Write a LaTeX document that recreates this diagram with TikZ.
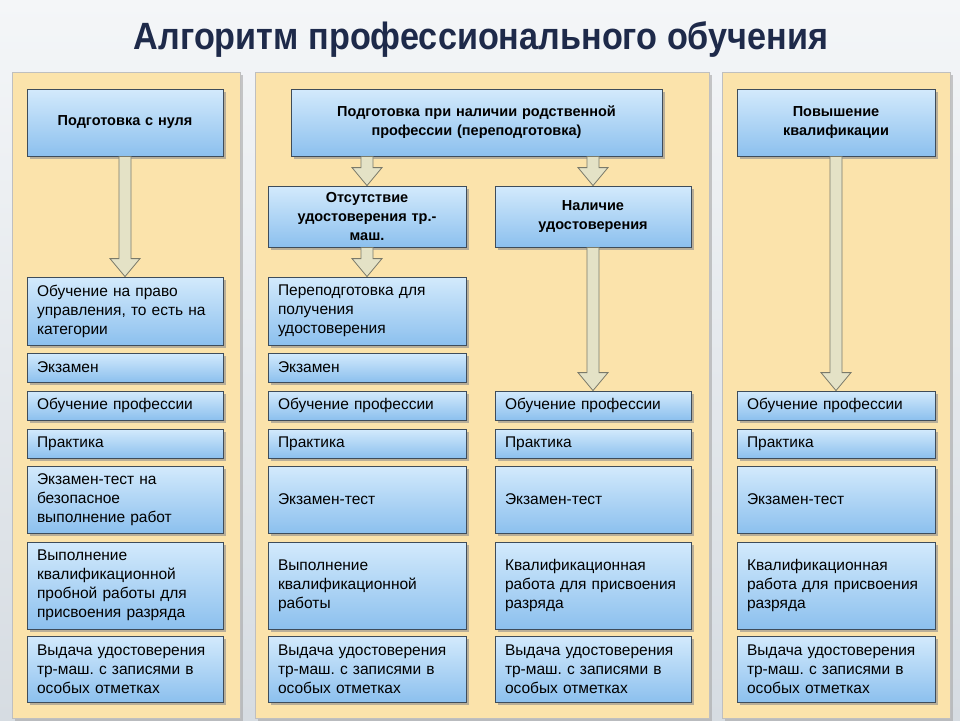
\documentclass[tikz,border=0pt]{standalone}
\usepackage{fontspec}
\setmainfont{Liberation Sans}
\frenchspacing
\usetikzlibrary{shadows,calc}
\definecolor{bgtop}{HTML}{F4F6F8}
\definecolor{bgbot}{HTML}{D6DCE2}
\definecolor{panel}{HTML}{FBE3AB}
\definecolor{btop}{HTML}{D3EAFC}
\definecolor{bbot}{HTML}{8CC0EE}
\definecolor{bord}{HTML}{3E4C5A}
\definecolor{arrf}{HTML}{E4E2C6}
\definecolor{arrd}{HTML}{7A7A6A}
\definecolor{titlec}{HTML}{1E2A4A}
\tikzset{
  box/.style={draw=bord, line width=0.8pt, top color=btop, bottom color=bbot, inner sep=0pt,
    drop shadow={shadow xshift=3pt, shadow yshift=-3pt, fill=black!45, opacity=0.6},
    font=\fontsize{15.5}{19}\selectfont, align=left},
  hbox/.style={box, font=\fontsize{14.5}{19}\selectfont\bfseries, align=center},
  panelst/.style={fill=panel, draw=black!25, line width=0.6pt,
    drop shadow={shadow xshift=3pt, shadow yshift=-3pt, fill=black!35, opacity=0.6}},
  barr/.style={fill=arrf, draw=arrd, line width=0.8pt, line join=miter}
}
% \bx[style]{name}{x1}{y1}{x2}{y2}{text}
\newcommand\bx[7][box]{%
  \node[#1, minimum width={(#5-#3)*1pt}, minimum height={(#6-#4)*1pt}, text width={(#5-#3-20)*1pt}]
    (#2) at ({(#3+#5)/2},{(#4+#6)/2}) {#7};}
% block arrow from (x, y1) to (x, y2)
\newcommand\barrow[2]{%
  \path let \p1=(#1), \p2=(#2) in
  [barr] (\x1-6pt,\y1) -- (\x1-6pt,\y2+18pt) -- (\x1-15pt,\y2+18pt) -- (\x1,\y2)
    -- (\x1+15pt,\y2+18pt) -- (\x1+6pt,\y2+18pt) -- (\x1+6pt,\y1) -- cycle;}
\begin{document}
\begin{tikzpicture}[x=1pt,y=-1pt]
\shade[top color=bgtop, bottom color=bgbot] (0,0) rectangle (960,720);
\useasboundingbox (0,0) rectangle (960,720);
\node[font=\fontsize{38}{44}\selectfont\bfseries, text=titlec, xscale=0.9, transform shape] (title) at (481,40) {Алгоритм профессионального обучения};
\path[panelst] (12,72) rectangle (240,718);
\path[panelst] (255,72) rectangle (709,718);
\path[panelst] (722,72) rectangle (950,718);
% column 1
\bx[hbox]{h1}{27}{89}{223}{156}{Подготовка с нуля}
\bx{a1}{27}{277}{223}{345}{Обучение на право\\управления, то есть на\\категории}
\bx{a2}{27}{353}{223}{382}{Экзамен}
\bx{a3}{27}{391}{223}{420}{Обучение профессии}
\bx{a4}{27}{429}{223}{458}{Практика}
\bx{a5}{27}{466}{223}{533}{Экзамен-тест на\\безопасное\\выполнение работ}
\bx{a6}{27}{542}{223}{629}{Выполнение\\квалификационной\\пробной работы для\\присвоения разряда}
\bx{a7}{27}{636}{223}{702}{Выдача удостоверения\\тр-маш. с записями в\\особых отметках}
% column 2
\bx[hbox]{h2}{291}{89}{662}{156}{Подготовка при наличии родственной\\профессии (переподготовка)}
\bx[hbox]{o1}{268}{186}{466}{247}{Отсутствие\\удостоверения тр.-\\маш.}
\bx[hbox]{n1}{495}{186}{691}{247}{Наличие\\удостоверения}
\bx{b1}{268}{277}{466}{345}{Переподготовка для\\получения\\удостоверения}
\bx{b2}{268}{353}{466}{382}{Экзамен}
\bx{b3}{268}{391}{466}{420}{Обучение профессии}
\bx{b4}{268}{429}{466}{458}{Практика}
\bx{b5}{268}{466}{466}{533}{Экзамен-тест}
\bx{b6}{268}{542}{466}{629}{Выполнение\\квалификационной\\работы}
\bx{b7}{268}{636}{466}{702}{Выдача удостоверения\\тр-маш. с записями в\\особых отметках}
\bx{c3}{495}{391}{691}{420}{Обучение профессии}
\bx{c4}{495}{429}{691}{458}{Практика}
\bx{c5}{495}{466}{691}{533}{Экзамен-тест}
\bx{c6}{495}{542}{691}{629}{Квалификационная\\работа для присвоения\\разряда}
\bx{c7}{495}{636}{691}{702}{Выдача удостоверения\\тр-маш. с записями в\\особых отметках}
% column 3
\bx[hbox]{h3}{737}{89}{935}{156}{Повышение\\квалификации}
\bx{d3}{737}{391}{935}{420}{Обучение профессии}
\bx{d4}{737}{429}{935}{458}{Практика}
\bx{d5}{737}{466}{935}{533}{Экзамен-тест}
\bx{d6}{737}{542}{935}{629}{Квалификационная\\работа для присвоения\\разряда}
\bx{d7}{737}{636}{935}{702}{Выдача удостоверения\\тр-маш. с записями в\\особых отметках}
% arrows
\coordinate (h2l) at (h2.south -| o1.north);
\coordinate (h2r) at (h2.south -| n1.north);
\barrow{h1.south}{a1.north}
\barrow{h2l}{o1.north}
\barrow{h2r}{n1.north}
\barrow{o1.south}{b1.north}
\barrow{n1.south}{c3.north}
\barrow{h3.south}{d3.north}
\end{tikzpicture}
\end{document}
